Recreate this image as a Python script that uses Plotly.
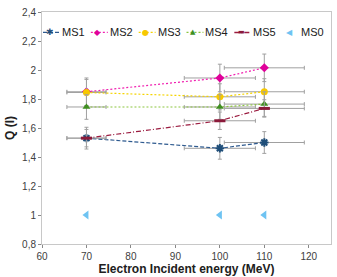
import plotly.graph_objects as go

energy = [70, 100, 110]
x_err = [4.4, 8, 9]
ms1 = [1.53, 1.46, 1.50]
ms2 = [1.85, 1.945, 2.015]
ms3 = [1.845, 1.815, 1.85]
ms4 = [1.745, 1.745, 1.765]
ms5 = [1.53, 1.65, 1.735]
ms0 = [1.0, 1.0, 1.0]
y_err = {"MS1": 0.075, "MS2": 0.095, "MS3": 0.09, "MS4": 0.085, "MS5": 0.06}

series = [
    ("MS1", ms1, dict(color="#2e5a8f", dash="4px,2px"), dict(symbol="asterisk-open", size=7, color="#1f4e79", line=dict(width=2, color="#1f4e79")), "✱"),
    ("MS2", ms2, dict(color="#f020b0", dash="2px,2px"), dict(symbol="diamond", size=7, color="#e0009a"), "◆"),
    ("MS3", ms3, dict(color="#f5d400", dash="2px,2px"), dict(symbol="circle", size=7, color="#f7c800"), "●"),
    ("MS4", ms4, dict(color="#8cc63f", dash="2px,2px"), dict(symbol="triangle-up", size=7, color="#3f8f1f"), "▲"),
    ("MS5", ms5, dict(color="#9b1c40", dash="5px,2px,1px,2px"), dict(symbol="line-ew-open", size=8, color="#8b1a3a", line=dict(width=3, color="#8b1a3a")), "▬"),
]

fig = go.Figure()
for name, vals, line, marker, _ in series:
    fig.add_trace(go.Scatter(
        x=energy, y=vals, name=name, mode="lines+markers",
        line=dict(width=1.2, **line), marker=marker,
        error_x=dict(type="data", array=x_err, color="#a0a0a0", thickness=1, width=2),
        error_y=dict(type="data", array=[y_err[name]] * 3, color="#a0a0a0", thickness=1, width=2),
    ))
fig.add_trace(go.Scatter(
    x=energy, y=ms0, name="MS0", mode="markers",
    marker=dict(symbol="triangle-left", size=8, color="#6ec3f2"),
))

# custom compact legend (one row across the top of the plot)
PLOT_L, PLOT_W = 42, 290
def px2paper(p):
    return (p - PLOT_L) / PLOT_W

legend_items = [(s[0], s[2]["color"], s[2]["dash"], s[3]["color"], s[4]) for s in series]
legend_items.append(("MS0", None, None, "#6ec3f2", "◀"))
leg_y = 0.912
for i, (name, lcol, ldash, mcol, glyph) in enumerate(legend_items):
    text_left = 62 + 48 * i
    if lcol is not None:
        fig.add_shape(type="line", xref="paper", yref="paper",
                      x0=px2paper(text_left - 19), x1=px2paper(text_left - 2), y0=leg_y, y1=leg_y,
                      line=dict(color=lcol, width=1.2 if name != "MS5" else 1.5, dash=ldash))
    gsize = {"✱": 9, "◆": 8, "●": 8, "▲": 7, "▬": 7, "◀": 8}[glyph]
    fig.add_annotation(xref="paper", yref="paper", x=px2paper(text_left - 12), y=leg_y,
                       text=glyph, showarrow=False, xanchor="center", yanchor="middle",
                       font=dict(size=gsize, color=mcol, family="DejaVu Sans"))
    fig.add_annotation(xref="paper", yref="paper", x=px2paper(text_left), y=leg_y,
                       text=name, showarrow=False, xanchor="left", yanchor="middle",
                       font=dict(size=11, color="#202020"), xshift=-2)

fig.update_layout(
    width=337, height=277,
    margin=dict(l=42, r=5, t=12, b=26),
    paper_bgcolor="white", plot_bgcolor="white",
    separators=", ",
    font=dict(family="Liberation Sans, Arial, sans-serif", size=10, color="#404040"),
    showlegend=False,
    xaxis=dict(range=[60, 125], tickvals=[60, 70, 80, 90, 100, 110, 120],
               showgrid=False, zeroline=False, showline=True, linecolor="#c8c8c8", mirror=True,
               ticks="outside", ticklen=3, tickcolor="#888",
               title=dict(text="<b>Electron Incident energy (MeV)</b>", standoff=2,
                          font=dict(size=12, color="#202020"))),
    yaxis=dict(range=[0.8, 2.4], tickvals=[0.8, 1.0, 1.2, 1.4, 1.6, 1.8, 2.0, 2.2, 2.4],
               showgrid=False, zeroline=False, showline=True, linecolor="#c8c8c8", mirror=True,
               ticks="outside", ticklen=3, tickcolor="#888",
               title=dict(text="<b>Q (l)</b>", standoff=4,
                          font=dict(size=12, color="#202020"))),
)

fig.write_html("out.html")
